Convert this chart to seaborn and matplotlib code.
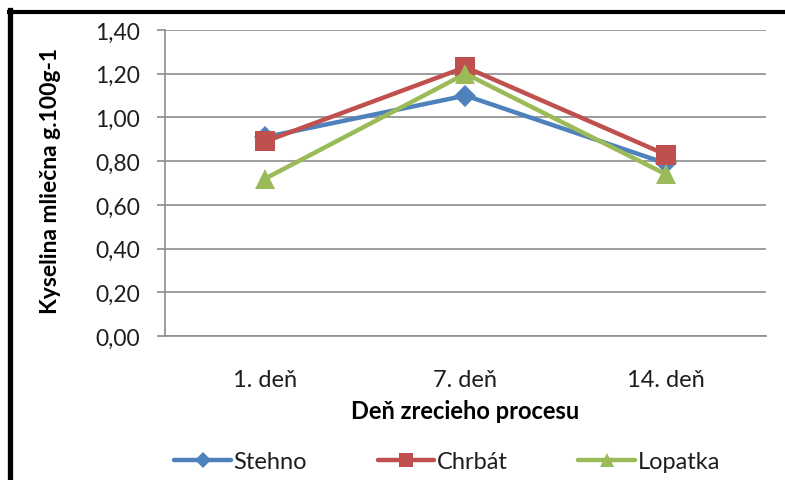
import matplotlib
matplotlib.use("Agg")
import matplotlib.pyplot as plt
from matplotlib.lines import Line2D
import pandas as pd
import seaborn as sns

# Lactic acid content during meat ripening
days = ["1. deň", "7. deň", "14. deň"]
stehno = [0.91, 1.10, 0.79]
chrbat = [0.89, 1.23, 0.83]
lopatka = [0.72, 1.20, 0.74]
series_names = ["Stehno", "Chrbát", "Lopatka"]
y_ticks = [0.0, 0.2, 0.4, 0.6, 0.8, 1.0, 1.2, 1.4]

df = pd.DataFrame({
    "den": days * 3,
    "x": list(range(len(days))) * 3,
    "hodnota": stehno + chrbat + lopatka,
    "vzorka": sum([[n] * len(days) for n in series_names], []),
})

sns.set_theme(style="white")
plt.rcParams["font.family"] = ["Lato", "DejaVu Sans"]

colors = {"Stehno": "#4F81BD", "Chrbát": "#C0504D", "Lopatka": "#9BBB59"}
markers = {"Stehno": "D", "Chrbát": "s", "Lopatka": "^"}
msize = {"Stehno": 11, "Chrbát": 14, "Lopatka": 15}

W, H = 785, 481
fig = plt.figure(figsize=(W / 100, H / 100), dpi=100, facecolor="white")
ax = fig.add_axes([165 / W, 1 - 337 / H, (766 - 165) / W, (337 - 31) / H])
ax.set_facecolor("white")

sns.lineplot(data=df, x="x", y="hodnota", hue="vzorka", style="vzorka",
             palette=colors, markers=markers, dashes=False, linewidth=3.2,
             hue_order=series_names, style_order=series_names,
             legend=False, ax=ax)
for line, name in zip(ax.lines, series_names):
    line.set_markersize(msize[name])
    line.set_markeredgewidth(0)
    line.set_markerfacecolor(colors[name])
    line.set_solid_joinstyle("miter")

ax.set_xlim(-0.5, 2.5)
ax.set_ylim(0, 1.4)
ax.set_xticks(range(len(days)))
ax.set_xticklabels(days)
ax.set_yticks(y_ticks)
ax.set_yticklabels([f"{v:.2f}".replace(".", ",") for v in y_ticks])

ax.grid(axis="y", color="#8C8C8C", linewidth=1.2)
ax.set_axisbelow(True)
for side in ["top", "right"]:
    ax.spines[side].set_visible(False)
ax.spines["left"].set_color("#8C8C8C")
ax.spines["left"].set_linewidth(1.2)
ax.spines["bottom"].set_color("#8C8C8C")
ax.spines["bottom"].set_linewidth(1.2)
ax.tick_params(axis="y", length=6, width=1.2, color="#8C8C8C", pad=12,
               labelsize=16.5, labelcolor="#1E1E1E", left=True)
ax.tick_params(axis="x", length=0, pad=24, labelsize=17, labelcolor="#1E1E1E")

ax.set_xlabel("Deň zrecieho procesu", fontsize=17, fontweight="bold", color="black")
ax.set_ylabel("Kyselina mliečna g.100g-1", fontsize=16.5, fontweight="bold", color="black")
ax.xaxis.set_label_coords(0.5, -0.205)
ax.yaxis.set_label_coords(-0.191, 0.51)
ax.yaxis.label.set_va("center")

handles = [Line2D([0], [0], color=colors[n], marker=markers[n], linewidth=3.2,
                  markersize=msize[n] * 0.7, markeredgewidth=0) for n in series_names]
fig.legend(handles, series_names, loc="center", bbox_to_anchor=(447 / W, 1 - 463 / H),
           ncol=3, frameon=False, fontsize=17, handlelength=2.4, handletextpad=0.1,
           columnspacing=3.0, labelcolor="#1E1E1E")

# Black frame on the top and left edges
fig.add_artist(Line2D([9.5 / W, 9.5 / W], [0, 1 - 11 / H], color="black",
                      linewidth=3.8, transform=fig.transFigure, solid_capstyle="projecting"))
fig.add_artist(Line2D([7 / W, 1], [1 - 13 / H, 1 - 13 / H], color="black",
                      linewidth=3.0, transform=fig.transFigure, solid_capstyle="butt"))

fig.savefig("out.png", dpi=100, facecolor="white")
